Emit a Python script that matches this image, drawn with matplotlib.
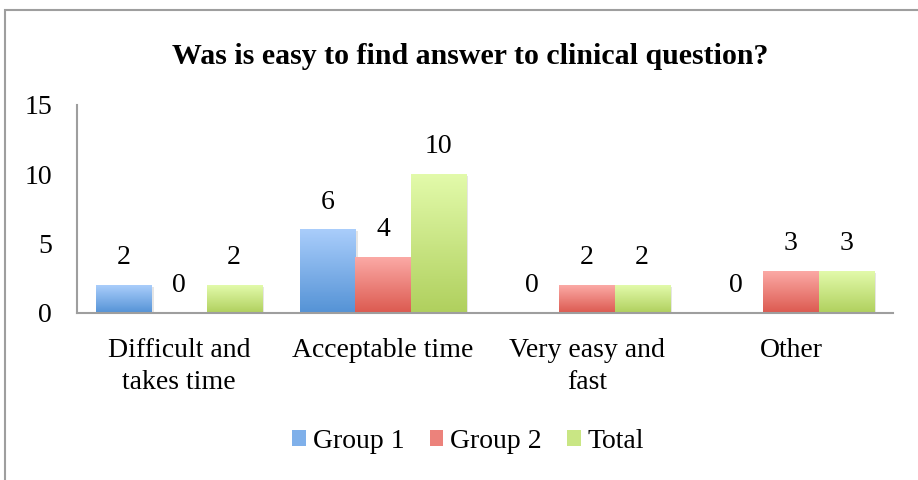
import numpy as np
import matplotlib
matplotlib.use("Agg")
import matplotlib.pyplot as plt
from matplotlib.patches import Patch, Rectangle
from matplotlib.colors import LinearSegmentedColormap

# --- datos ---
categorias = ["Difficult and\ntakes time", "Acceptable time", "Very easy and\nfast", "Other"]
series = ["Group 1", "Group 2", "Total"]
group1 = [2, 6, 0, 0]
group2 = [0, 4, 2, 3]
total = [2, 10, 2, 3]
yticks = [0, 5, 10, 15]
titulo = "Was is easy to find answer to clinical question?"

# colores (arriba claro, abajo oscuro, medio para la leyenda)
grad = [("#a9cdfb", "#5593d6"), ("#fba9a5", "#dc5a50"), ("#e2faaa", "#b0d05e")]
medio = ["#7fb0ea", "#ec827b", "#c9e684"]

fig = plt.figure(figsize=(9.18, 4.8), dpi=100)
ax = fig.add_axes([77 / 918, 1 - 313 / 480, (893 - 77) / 918, (313 - 105) / 480])

serif = "Liberation Serif"
fs = 20
x = np.arange(len(categorias))
w = 0.27
valores = [group1, group2, total]

for i, vals in enumerate(valores):
    cmap = LinearSegmentedColormap.from_list("g%d" % i, [grad[i][1], grad[i][0]])
    for j, v in enumerate(vals):
        x0 = x[j] + (i - 1) * w - w / 2
        if v > 0:
            # sombra
            ax.add_patch(Rectangle((x0 + 0.012, -0.12), w, v, color="#000000",
                                   alpha=0.10, lw=0, zorder=1))
            ax.imshow(np.linspace(0, 1, 64).reshape(-1, 1), cmap=cmap, origin="lower",
                      extent=(x0, x0 + w, 0, v), aspect="auto", zorder=2)
        ax.annotate(str(v), (x[j] + (i - 1) * w, v), xytext=(0, 20),
                    textcoords="offset points", ha="center", va="center",
                    fontsize=fs, family=serif)

ax.set_xlim(-0.5, len(categorias) - 0.5)
ax.set_ylim(0, 15)
ax.set_yticks(yticks)
ax.set_yticklabels([str(t) for t in yticks], fontsize=fs, family=serif)
ax.set_xticks(x)
ax.set_xticklabels(categorias, fontsize=fs, family=serif, linespacing=1.35)
ax.tick_params(axis="both", length=0)
ax.tick_params(axis="x", pad=18)
ax.tick_params(axis="y", pad=18)
for s in ["top", "right"]:
    ax.spines[s].set_visible(False)
for s in ["left", "bottom"]:
    ax.spines[s].set_color("#9e9e9e")
    ax.spines[s].set_linewidth(1.5)

fig.text(0.512, 1 - 56 / 480, titulo, ha="center", va="center",
         fontsize=21.5, fontweight="bold", family=serif)

handles = [Patch(facecolor=medio[i], edgecolor="none") for i in range(3)]
fig.legend(handles, series, loc="center", bbox_to_anchor=(0.51, 1 - 441 / 480),
           ncol=3, frameon=False, handlelength=0.5, handleheight=0.5,
           handletextpad=0.25, columnspacing=0.9, prop={"family": serif, "size": fs})

# marco del grafico
fig.add_artist(Rectangle((5 / 918, -0.1), 1.2, 1 - 10 / 480 + 0.1, transform=fig.transFigure,
                         fill=False, edgecolor="#9e9e9e", lw=1.5))

fig.savefig("out.png", dpi=100)
